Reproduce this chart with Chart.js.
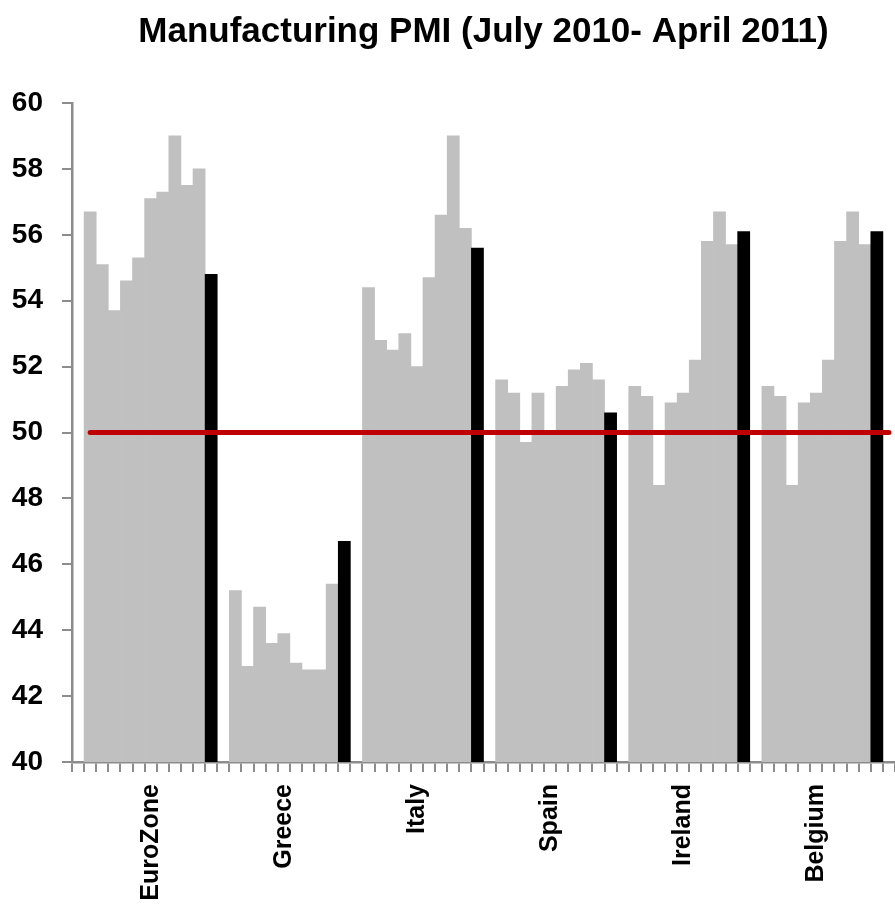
<!DOCTYPE html>
<html>
<head>
<meta charset="utf-8">
<script src="https://cdn.jsdelivr.net/npm/chart.js@4"></script>
<style>
  html, body { margin: 0; padding: 0; background: #fff; }
  canvas { display: block; }
</style>
</head>
<body>
<canvas id="pmi__chart" width="895" height="906"></canvas>
<script>
// PMI readings, July 2010 onwards; the last bar of each group is the latest reading
var countries = ['EuroZone', 'Greece', 'Italy', 'Spain', 'Ireland', 'Belgium'];
var euroZone = [56.7, 55.1, 53.7, 54.6, 55.3, 57.1, 57.3, 59.0, 57.5, 58.0, 54.8];
var greece   = [45.2, 42.9, 44.7, 43.6, 43.9, 43.0, 42.8, 42.8, 45.4, 46.7];
var italy    = [54.4, 52.8, 52.5, 53.0, 52.0, 54.7, 56.6, 59.0, 56.2, 55.6];
var spain    = [51.6, 51.2, 49.7, 51.2, 50.0, 51.4, 51.9, 52.1, 51.6, 50.6];
var ireland  = [51.4, 51.1, 48.4, 50.9, 51.2, 52.2, 55.8, 56.7, 55.7, 56.1];
var belgium  = [51.4, 51.1, 48.4, 50.9, 51.2, 52.2, 55.8, 56.7, 55.7, 56.1];
var threshold = 50;

var groups = [euroZone, greece, italy, spain, ireland, belgium];

// lay the groups out on one category axis, with an empty slot between them
var labels = ['gap 0'], values = [null], colors = ['#fff'], tickText = [''];
groups.forEach(function (g, k) {
    var mid = Math.floor((g.length - 1) / 2);
    g.forEach(function (v, i) {
        labels.push(countries[k] + ' ' + (i + 1));
        values.push(v);
        colors.push(i === g.length - 1 ? '#000000' : '#c0c0c0');
        tickText.push(i === mid ? countries[k] : '');
    });
    labels.push('gap ' + (k + 1));
    values.push(null);
    colors.push('#fff');
    tickText.push('');
});

var ctx = document.getElementById('pmi__chart').getContext('2d');
var pmiChart = new Chart(ctx, {
    type: 'bar',
    data: {
        labels: labels,
        datasets: [{
            type: 'line',
            data: [{x: labels[1], y: threshold}, {x: labels[labels.length - 1], y: threshold}],
            borderColor: '#c00000',
            borderWidth: 5,
            borderCapStyle: 'round',
            pointRadius: 0,
            order: 0
        }, {
            data: values,
            backgroundColor: colors,
            borderWidth: 0,
            barPercentage: 1,
            categoryPercentage: 1,
            order: 1
        }]
    },
    options: {
        responsive: false,
        animation: false,
        layout: { padding: 0 },
        plugins: {
            legend: { display: false },
            tooltip: { enabled: false },
            title: {
                display: true,
                fullSize: false,
                text: 'Manufacturing PMI (July 2010- April 2011)',
                color: '#000',
                font: { family: 'Liberation Sans', size: 35, weight: 'bold', lineHeight: 1.2 },
                padding: { top: 11, bottom: 50 }
            }
        },
        scales: {
            x: {
                grid: {
                    drawOnChartArea: false,
                    offset: true,
                    color: '#8c8c8c',
                    lineWidth: 2,
                    tickLength: 10
                },
                border: { color: '#8c8c8c', width: 2.5 },
                ticks: {
                    autoSkip: false,
                    maxRotation: 90,
                    minRotation: 90,
                    padding: 12,
                    color: '#000',
                    font: { family: 'Liberation Sans', size: 25, weight: 'bold' },
                    callback: function (val, i) { return tickText[i]; }
                },
                afterFit: function (s) {
                    s.height = 144;
                    s.paddingLeft = 0;
                    s.paddingRight = 0;
                }
            },
            y: {
                min: 40,
                max: 60,
                grid: {
                    drawOnChartArea: false,
                    color: '#8c8c8c',
                    lineWidth: 2,
                    tickLength: 10
                },
                border: { color: '#8c8c8c', width: 2.5 },
                ticks: {
                    stepSize: 2,
                    padding: 19,
                    color: '#000',
                    font: { family: 'Liberation Sans', size: 28, weight: 'bold' }
                },
                afterFit: function (s) { s.width = 72; }
            }
        }
    }
});
</script>
</body>
</html>
